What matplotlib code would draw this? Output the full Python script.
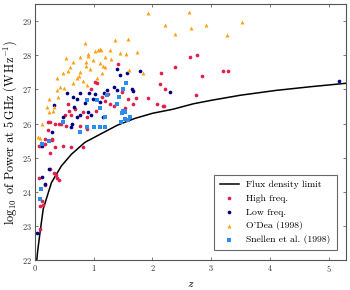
import numpy as np
import matplotlib
matplotlib.use("Agg")
import matplotlib.pyplot as plt

plt.rcParams["font.family"]="serif"
plt.rcParams["font.serif"]=["cmr10","DejaVu Serif"]
plt.rcParams["mathtext.fontset"]="cm"
plt.rcParams["axes.formatter.use_mathtext"]=True

# flux density limit
z_lim=[0.03,0.045,0.085,0.14,0.2,0.28,0.45,0.62,0.85,1.07,1.4,1.7,2.0,2.35,2.7,3.0,3.5,4.1,4.7,5.3]
p_lim=[22.0,22.26,22.8,23.5,23.83,24.27,24.76,25.1,25.45,25.65,25.95,26.15,26.3,26.42,26.58,26.68,26.83,26.97,27.08,27.18]

# high frequency sample
z_hi=[1.02,1.42,2.15,2.13,2.21,1.93,2.08,2.18,2.2,1.49,1.59,1.72,1.67,1.54,1.25,1.28,1.34,1.14,1.05,
      0.53,0.68,0.77,0.88,0.58,0.56,0.51,0.34,0.41,0.22,0.26,0.29,0.17,0.82,1.04,0.89,1.19,
      2.38,2.64,2.76,2.85,3.2,3.29,2.74,
      0.07,0.11,0.26,0.34,0.48,0.61,0.82,0.17,0.29,
      0.07,0.26,0.33,0.36,0.38,0.41,0.17,0.12,0.09,0.13,0.09,0.22,0.45,0.62,0.95]
p_hi=[27.21,27.74,27.47,27.15,27.02,26.76,26.56,26.5,26.5,26.92,26.73,26.75,26.56,26.46,26.87,26.58,26.5,26.79,27.18,
      25.94,26.43,25.94,25.85,26.38,26.56,26.24,26.0,26.0,25.82,26.04,25.56,25.41,26.33,26.38,26.18,26.65,
      27.65,27.94,28.0,27.38,27.53,27.53,26.85,
      25.33,25.33,25.15,25.3,25.35,25.32,25.3,25.56,25.53,
      24.41,24.68,24.56,24.48,24.42,24.36,24.2,23.74,23.6,23.62,22.9,26.04,26.0,26.24,27.0]

# low frequency sample
z_lo=[0.32,0.54,0.77,0.92,0.64,0.72,1.02,0.99,1.22,1.17,1.4,1.45,1.56,1.79,1.34,1.39,1.65,1.67,
      1.1,0.96,0.9,0.66,0.71,0.63,0.61,0.47,0.29,0.77,1.15,2.3,5.18,0.04,0.12,0.23,0.17,0.12,0.85]
p_lo=[26.53,26.89,26.89,26.89,26.78,26.71,26.87,26.73,26.97,26.89,27.61,27.41,27.47,27.54,27.08,26.97,27.0,26.95,
      26.63,26.24,26.33,26.48,26.18,26.0,25.89,26.18,25.75,26.26,26.18,26.91,27.26,22.8,24.44,24.68,24.24,25.33,26.6]

# O'Dea (1998)
z_od=[1.93,2.21,2.38,0.85,1.36,1.59,1.07,1.1,1.12,1.02,1.28,0.9,0.9,0.76,0.53,0.99,1.19,1.44,1.55,1.74,
      0.87,1.1,1.15,0.64,0.87,0.94,0.6,0.77,0.75,0.57,0.48,0.72,0.64,0.82,0.37,0.43,0.88,0.37,0.5,
      0.39,0.23,0.21,0.32,0.31,0.24,0.12,0.09,0.11,1.84,2.62,2.66,2.91,3.27,3.52,1.29,1.2,1.6,1.14,1.06,0.05]
p_od=[29.24,28.88,28.61,28.35,28.44,28.47,28.15,28.17,28.15,28.12,28.14,28.03,27.97,27.94,27.93,27.87,27.95,28.06,28.05,28.1,
      27.8,27.78,27.69,27.8,27.69,27.59,27.66,27.5,27.4,27.55,27.48,27.32,27.2,27.24,27.32,27.06,27.12,26.97,27.05,
      26.78,26.73,26.48,26.48,26.38,26.33,26.0,25.58,25.45,27.48,29.27,28.8,28.9,28.6,28.97,27.9,27.66,27.58,27.47,27.32,25.62]

# Snellen et al. (1998)
z_sn=[1.55,1.5,1.05,0.89,1.1,1.43,1.39,1.49,1.52,1.54,1.5,1.54,1.19,1.0,1.1,1.2,0.89,0.77,0.48,0.23,0.12,
      0.1,0.09,1.22,1.58,1.47,1.61]
p_sn=[27.18,27.0,26.7,26.7,26.47,26.77,26.58,26.3,26.38,26.33,26.36,26.12,26.18,25.89,25.89,25.89,25.89,25.74,26.04,25.5,25.41,
      24.09,23.8,26.85,26.1,26.05,26.2]

fig=plt.figure(figsize=(3.5,2.9),dpi=100)
ax=fig.add_axes([0.1,0.103,0.889,0.883])

ax.plot(z_lim,p_lim,color="black",lw=1.1,label="Flux density limit",zorder=1)
ax.scatter(z_hi,p_hi,s=7,marker="o",color="#e0204a",lw=0,label="High freq.",zorder=2)
ax.scatter(z_lo,p_lo,s=7,marker="o",color="#000080",lw=0,label="Low freq.",zorder=2)
ax.scatter(z_od,p_od,s=8,marker="^",color="#ffa010",lw=0,label="O'Dea (1998)",zorder=2)
ax.scatter(z_sn,p_sn,s=7,marker="s",color="#2b8cf0",lw=0,label="Snellen et al. (1998)",zorder=2)

ax.set_xlim(0,5.3)
ax.set_ylim(22,29.5)
ax.set_xticks([0,1,2,3,4,5])
ax.set_yticks([22,23,24,25,26,27,28,29])
ax.tick_params(direction="in",top=True,right=True,labelsize=6,length=2.5,width=0.5,pad=2,colors="#444444",labelcolor="#333333")
for sp in ax.spines.values():
    sp.set_color("#555555")
    sp.set_linewidth(0.8)
ax.set_xlabel("$z$",fontsize=8.5)
ax.set_ylabel("$\\log_{10}$ of Power at $5\\,$GHz (W$\\,$Hz$^{-1}$)",fontsize=8.8,labelpad=2)

leg=ax.legend(loc="lower right",fontsize=7,frameon=True,fancybox=False,edgecolor="#444444",
              markerscale=1.0,handlelength=1.9,borderpad=0.6,labelspacing=0.5,bbox_to_anchor=(0.985,0.02))
leg.get_frame().set_linewidth(0.8)

plt.savefig("out.png",dpi=100)
